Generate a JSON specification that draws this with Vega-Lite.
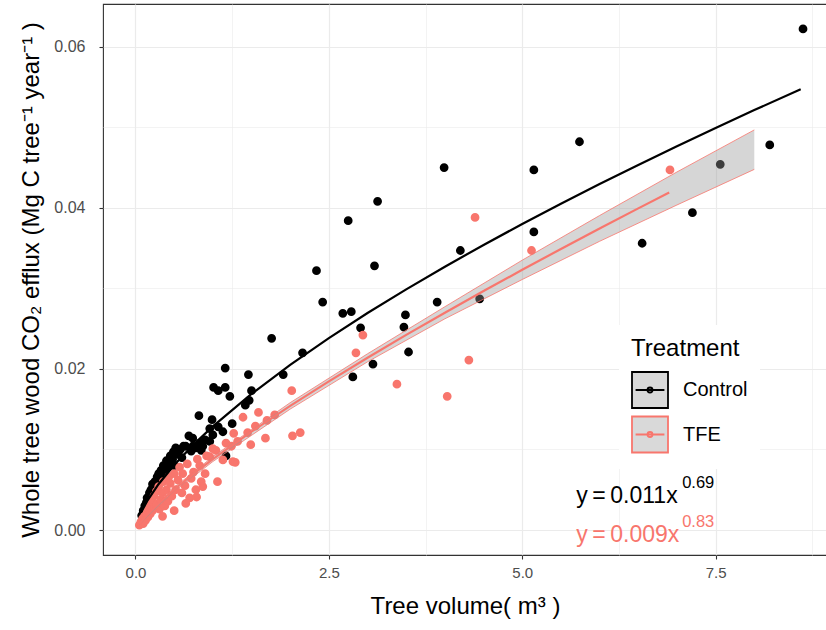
{
  "$schema": "https://vega.github.io/schema/vega-lite/v6.json",
  "autosize": "none",
  "padding": {"left": 103, "top": 4, "right": 0, "bottom": 71},
  "width": 724,
  "height": 551,
  "background": "white",
  "config": {
    "font": "Liberation Sans",
    "view": {"stroke": "#333333", "strokeWidth": 1.1},
    "legend": {
      "orient": "none",
      "legendX": 516,
      "legendY": 321,
      "direction": "vertical",
      "padding": 12,
      "fillColor": "white",
      "titleFont": "Liberation Sans",
      "titleFontSize": 24,
      "titleFontWeight": "normal",
      "titleColor": "#000000",
      "titlePadding": 10,
      "labelFont": "Liberation Sans",
      "labelFontSize": 20,
      "labelColor": "#000000",
      "labelOffset": 14,
      "rowPadding": 0.5,
      "symbolSize": 1296,
      "symbolStrokeWidth": 1.8
    }
  },
  "datasets": {
    "points": [
      {"x":0.08,"y":0.0018,"Treatment":"Control"},{"x":0.1,"y":0.0024,"Treatment":"Control"},{"x":0.12,"y":0.003,"Treatment":"Control"},{"x":0.14,"y":0.0034,"Treatment":"Control"},{"x":0.15,"y":0.004,"Treatment":"Control"},{"x":0.17,"y":0.0036,"Treatment":"Control"},{"x":0.18,"y":0.0046,"Treatment":"Control"},{"x":0.2,"y":0.005,"Treatment":"Control"},{"x":0.2,"y":0.0042,"Treatment":"Control"},{"x":0.22,"y":0.0057,"Treatment":"Control"},{"x":0.23,"y":0.0048,"Treatment":"Control"},{"x":0.25,"y":0.006,"Treatment":"Control"},{"x":0.26,"y":0.0052,"Treatment":"Control"},{"x":0.28,"y":0.0066,"Treatment":"Control"},{"x":0.29,"y":0.0058,"Treatment":"Control"},{"x":0.3,"y":0.007,"Treatment":"Control"},{"x":0.32,"y":0.0062,"Treatment":"Control"},{"x":0.33,"y":0.0074,"Treatment":"Control"},{"x":0.35,"y":0.0068,"Treatment":"Control"},{"x":0.36,"y":0.008,"Treatment":"Control"},{"x":0.38,"y":0.0072,"Treatment":"Control"},{"x":0.4,"y":0.0086,"Treatment":"Control"},{"x":0.42,"y":0.0078,"Treatment":"Control"},{"x":0.44,"y":0.0083,"Treatment":"Control"},{"x":0.45,"y":0.0092,"Treatment":"Control"},{"x":0.48,"y":0.0088,"Treatment":"Control"},{"x":0.49,"y":0.0097,"Treatment":"Control"},{"x":0.5,"y":0.008,"Treatment":"Control"},{"x":0.52,"y":0.0102,"Treatment":"Control"},{"x":0.55,"y":0.0094,"Treatment":"Control"},{"x":0.58,"y":0.01,"Treatment":"Control"},{"x":0.6,"y":0.009,"Treatment":"Control"},{"x":0.62,"y":0.0104,"Treatment":"Control"},{"x":0.65,"y":0.0104,"Treatment":"Control"},{"x":0.69,"y":0.0117,"Treatment":"Control"},{"x":0.72,"y":0.0098,"Treatment":"Control"},{"x":0.74,"y":0.0114,"Treatment":"Control"},{"x":0.74,"y":0.0104,"Treatment":"Control"},{"x":0.78,"y":0.0102,"Treatment":"Control"},{"x":0.82,"y":0.0142,"Treatment":"Control"},{"x":0.83,"y":0.0108,"Treatment":"Control"},{"x":0.85,"y":0.0099,"Treatment":"Control"},{"x":0.87,"y":0.0104,"Treatment":"Control"},{"x":0.9,"y":0.0112,"Treatment":"Control"},{"x":0.96,"y":0.0126,"Treatment":"Control"},{"x":0.96,"y":0.011,"Treatment":"Control"},{"x":0.99,"y":0.0137,"Treatment":"Control"},{"x":1.0,"y":0.0118,"Treatment":"Control"},{"x":1.07,"y":0.0128,"Treatment":"Control"},{"x":1.13,"y":0.0122,"Treatment":"Control"},{"x":1.17,"y":0.0092,"Treatment":"Control"},{"x":1.25,"y":0.0132,"Treatment":"Control"},{"x":1.01,"y":0.0177,"Treatment":"Control"},{"x":1.07,"y":0.0173,"Treatment":"Control"},{"x":1.16,"y":0.0177,"Treatment":"Control"},{"x":1.16,"y":0.0201,"Treatment":"Control"},{"x":1.22,"y":0.0166,"Treatment":"Control"},{"x":1.42,"y":0.0155,"Treatment":"Control"},{"x":1.46,"y":0.0193,"Treatment":"Control"},{"x":1.47,"y":0.0161,"Treatment":"Control"},{"x":1.5,"y":0.0173,"Treatment":"Control"},{"x":1.76,"y":0.0238,"Treatment":"Control"},{"x":1.91,"y":0.0193,"Treatment":"Control"},{"x":2.16,"y":0.022,"Treatment":"Control"},{"x":2.34,"y":0.0322,"Treatment":"Control"},{"x":2.42,"y":0.0283,"Treatment":"Control"},{"x":2.68,"y":0.0269,"Treatment":"Control"},{"x":2.75,"y":0.0384,"Treatment":"Control"},{"x":2.79,"y":0.0271,"Treatment":"Control"},{"x":2.81,"y":0.019,"Treatment":"Control"},{"x":2.91,"y":0.0251,"Treatment":"Control"},{"x":3.07,"y":0.0206,"Treatment":"Control"},{"x":3.09,"y":0.0328,"Treatment":"Control"},{"x":3.13,"y":0.0408,"Treatment":"Control"},{"x":3.47,"y":0.0252,"Treatment":"Control"},{"x":3.49,"y":0.0267,"Treatment":"Control"},{"x":3.53,"y":0.0221,"Treatment":"Control"},{"x":3.9,"y":0.0283,"Treatment":"Control"},{"x":3.99,"y":0.045,"Treatment":"Control"},{"x":4.2,"y":0.0347,"Treatment":"Control"},{"x":4.45,"y":0.0287,"Treatment":"Control"},{"x":5.15,"y":0.0447,"Treatment":"Control"},{"x":5.15,"y":0.037,"Treatment":"Control"},{"x":5.74,"y":0.0482,"Treatment":"Control"},{"x":6.55,"y":0.0356,"Treatment":"Control"},{"x":7.2,"y":0.0394,"Treatment":"Control"},{"x":7.56,"y":0.0454,"Treatment":"Control"},{"x":8.2,"y":0.0478,"Treatment":"Control"},{"x":8.63,"y":0.0622,"Treatment":"Control"},
      {"x":0.05,"y":0.0006,"Treatment":"TFE"},{"x":0.07,"y":0.001,"Treatment":"TFE"},{"x":0.09,"y":0.0014,"Treatment":"TFE"},{"x":0.1,"y":0.0008,"Treatment":"TFE"},{"x":0.12,"y":0.0018,"Treatment":"TFE"},{"x":0.13,"y":0.0012,"Treatment":"TFE"},{"x":0.15,"y":0.0024,"Treatment":"TFE"},{"x":0.16,"y":0.0016,"Treatment":"TFE"},{"x":0.18,"y":0.003,"Treatment":"TFE"},{"x":0.19,"y":0.002,"Treatment":"TFE"},{"x":0.21,"y":0.0036,"Treatment":"TFE"},{"x":0.22,"y":0.0024,"Treatment":"TFE"},{"x":0.24,"y":0.0042,"Treatment":"TFE"},{"x":0.25,"y":0.0028,"Treatment":"TFE"},{"x":0.27,"y":0.0048,"Treatment":"TFE"},{"x":0.28,"y":0.0032,"Treatment":"TFE"},{"x":0.3,"y":0.0054,"Treatment":"TFE"},{"x":0.31,"y":0.0026,"Treatment":"TFE"},{"x":0.33,"y":0.0038,"Treatment":"TFE"},{"x":0.35,"y":0.0046,"Treatment":"TFE"},{"x":0.35,"y":0.0017,"Treatment":"TFE"},{"x":0.36,"y":0.006,"Treatment":"TFE"},{"x":0.38,"y":0.003,"Treatment":"TFE"},{"x":0.4,"y":0.005,"Treatment":"TFE"},{"x":0.42,"y":0.0036,"Treatment":"TFE"},{"x":0.43,"y":0.0066,"Treatment":"TFE"},{"x":0.45,"y":0.0058,"Treatment":"TFE"},{"x":0.47,"y":0.0042,"Treatment":"TFE"},{"x":0.5,"y":0.007,"Treatment":"TFE"},{"x":0.5,"y":0.0024,"Treatment":"TFE"},{"x":0.52,"y":0.005,"Treatment":"TFE"},{"x":0.55,"y":0.0062,"Treatment":"TFE"},{"x":0.57,"y":0.0078,"Treatment":"TFE"},{"x":0.6,"y":0.0046,"Treatment":"TFE"},{"x":0.61,"y":0.007,"Treatment":"TFE"},{"x":0.64,"y":0.0055,"Treatment":"TFE"},{"x":0.65,"y":0.0033,"Treatment":"TFE"},{"x":0.67,"y":0.0082,"Treatment":"TFE"},{"x":0.7,"y":0.004,"Treatment":"TFE"},{"x":0.72,"y":0.0064,"Treatment":"TFE"},{"x":0.75,"y":0.0072,"Treatment":"TFE"},{"x":0.78,"y":0.005,"Treatment":"TFE"},{"x":0.79,"y":0.0041,"Treatment":"TFE"},{"x":0.8,"y":0.0088,"Treatment":"TFE"},{"x":0.83,"y":0.008,"Treatment":"TFE"},{"x":0.85,"y":0.006,"Treatment":"TFE"},{"x":0.87,"y":0.0054,"Treatment":"TFE"},{"x":0.9,"y":0.007,"Treatment":"TFE"},{"x":0.92,"y":0.0092,"Treatment":"TFE"},{"x":0.96,"y":0.0091,"Treatment":"TFE"},{"x":1.0,"y":0.0101,"Treatment":"TFE"},{"x":1.04,"y":0.0099,"Treatment":"TFE"},{"x":1.06,"y":0.006,"Treatment":"TFE"},{"x":1.13,"y":0.0087,"Treatment":"TFE"},{"x":1.17,"y":0.0108,"Treatment":"TFE"},{"x":1.24,"y":0.0104,"Treatment":"TFE"},{"x":1.26,"y":0.0085,"Treatment":"TFE"},{"x":1.27,"y":0.012,"Treatment":"TFE"},{"x":1.29,"y":0.0084,"Treatment":"TFE"},{"x":1.32,"y":0.011,"Treatment":"TFE"},{"x":1.39,"y":0.014,"Treatment":"TFE"},{"x":1.45,"y":0.0121,"Treatment":"TFE"},{"x":1.49,"y":0.0106,"Treatment":"TFE"},{"x":1.55,"y":0.0129,"Treatment":"TFE"},{"x":1.59,"y":0.0146,"Treatment":"TFE"},{"x":1.68,"y":0.0114,"Treatment":"TFE"},{"x":1.7,"y":0.0136,"Treatment":"TFE"},{"x":1.8,"y":0.0143,"Treatment":"TFE"},{"x":2.02,"y":0.0173,"Treatment":"TFE"},{"x":2.03,"y":0.0117,"Treatment":"TFE"},{"x":2.13,"y":0.0121,"Treatment":"TFE"},{"x":2.85,"y":0.022,"Treatment":"TFE"},{"x":2.94,"y":0.0242,"Treatment":"TFE"},{"x":3.38,"y":0.0181,"Treatment":"TFE"},{"x":4.03,"y":0.0166,"Treatment":"TFE"},{"x":4.31,"y":0.0211,"Treatment":"TFE"},{"x":4.39,"y":0.0388,"Treatment":"TFE"},{"x":5.12,"y":0.0347,"Treatment":"TFE"},{"x":6.91,"y":0.0447,"Treatment":"TFE"}
    ],
    "fits": [
      {"x":0.07,"y":0.00215,"Treatment":"Control"},{"x":0.15,"y":0.00359,"Treatment":"Control"},{"x":0.3,"y":0.00572,"Treatment":"Control"},{"x":0.5,"y":0.00807,"Treatment":"Control"},{"x":0.75,"y":0.0106,"Treatment":"Control"},{"x":1.0,"y":0.01286,"Treatment":"Control"},{"x":1.5,"y":0.0169,"Treatment":"Control"},{"x":2.0,"y":0.0205,"Treatment":"Control"},{"x":2.5,"y":0.02383,"Treatment":"Control"},{"x":3.0,"y":0.02694,"Treatment":"Control"},{"x":3.5,"y":0.02988,"Treatment":"Control"},{"x":4.0,"y":0.03269,"Treatment":"Control"},{"x":4.5,"y":0.03539,"Treatment":"Control"},{"x":5.0,"y":0.03799,"Treatment":"Control"},{"x":5.5,"y":0.04051,"Treatment":"Control"},{"x":6.0,"y":0.04295,"Treatment":"Control"},{"x":6.5,"y":0.04532,"Treatment":"Control"},{"x":7.0,"y":0.04765,"Treatment":"Control"},{"x":7.5,"y":0.04991,"Treatment":"Control"},{"x":8.0,"y":0.05213,"Treatment":"Control"},{"x":8.6,"y":0.05473,"Treatment":"Control"},
      {"x":0.05,"y":0.00078,"Treatment":"TFE"},{"x":0.15,"y":0.0019,"Treatment":"TFE"},{"x":0.3,"y":0.00333,"Treatment":"TFE"},{"x":0.5,"y":0.00503,"Treatment":"TFE"},{"x":0.75,"y":0.00697,"Treatment":"TFE"},{"x":1.0,"y":0.0088,"Treatment":"TFE"},{"x":1.5,"y":0.01221,"Treatment":"TFE"},{"x":2.0,"y":0.01541,"Treatment":"TFE"},{"x":2.5,"y":0.01845,"Treatment":"TFE"},{"x":3.0,"y":0.02138,"Treatment":"TFE"},{"x":3.5,"y":0.02422,"Treatment":"TFE"},{"x":4.0,"y":0.02697,"Treatment":"TFE"},{"x":4.5,"y":0.02967,"Treatment":"TFE"},{"x":5.0,"y":0.0323,"Treatment":"TFE"},{"x":5.5,"y":0.03489,"Treatment":"TFE"},{"x":6.0,"y":0.03744,"Treatment":"TFE"},{"x":6.5,"y":0.03993,"Treatment":"TFE"},{"x":6.9,"y":0.0419,"Treatment":"TFE"}
    ],
    "band": [
      {"x":0.05,"lo":0.00058,"hi":0.00098},{"x":0.5,"lo":0.00478,"hi":0.00528},{"x":1.0,"lo":0.0085,"hi":0.0091},{"x":2.0,"lo":0.01501,"hi":0.01581},{"x":3.0,"lo":0.02088,"hi":0.02188},{"x":4.0,"lo":0.02622,"hi":0.02772},{"x":5.0,"lo":0.0311,"hi":0.0335},{"x":6.0,"lo":0.03584,"hi":0.03904},{"x":7.0,"lo":0.04035,"hi":0.04445},{"x":8.0,"lo":0.04477,"hi":0.04967}
    ],
    "eqs": [
      {"Treatment":"Control","x":5.697,"y":0.00339,"label":"y\u2009=\u20090.011x","sup":"0.69"},
      {"Treatment":"TFE","x":5.697,"y":-0.00145,"label":"y\u2009=\u20090.009x","sup":"0.83"}
    ]
  },
  "encoding": {
    "x": {
      "field": "x", "type": "quantitative",
      "scale": {"domain": [-0.42, 8.94], "nice": false, "zero": false},
      "axis": {
        "title": "Tree volume( m\u00b3 )",
        "values": [0, 1.25, 2.5, 3.75, 5, 6.25, 7.5, 8.75],
        "labelExpr": "(datum.value / 1.25) % 2 === 0 ? format(datum.value, '.1f') : ''",
        "domain": false,
        "grid": true,
        "gridColor": "#EBEBEB",
        "gridWidth": {"condition": {"test": "(datum.value / 1.25) % 2 !== 0", "value": 0.6}, "value": 1.2},
        "tickColor": "#333333",
        "tickOpacity": {"condition": {"test": "(datum.value / 1.25) % 2 !== 0", "value": 0}, "value": 1},
        "tickSize": 4,
        "tickWidth": 1.1,
        "labelFontSize": 15,
        "labelColor": "#4D4D4D",
        "labelPadding": 6,
        "labelFont": "Liberation Sans",
        "titleFont": "Liberation Sans",
        "titleFontSize": 24,
        "titleFontWeight": "normal",
        "titleColor": "#000000",
        "titlePadding": 14
      }
    },
    "y": {
      "field": "y", "type": "quantitative",
      "scale": {"domain": [-0.0031, 0.0653], "nice": false, "zero": false},
      "axis": {
        "title": "Whole tree wood CO\u2082 efflux (Mg C tree\u207b\u00b9 year\u207b\u00b9 )",
        "values": [0, 0.01, 0.02, 0.03, 0.04, 0.05, 0.06],
        "labelExpr": "round(datum.value * 100) % 2 === 0 ? format(datum.value, '.2f') : ''",
        "domain": false,
        "grid": true,
        "gridColor": "#EBEBEB",
        "gridWidth": {"condition": {"test": "round(datum.value * 100) % 2 !== 0", "value": 0.6}, "value": 1.2},
        "tickColor": "#333333",
        "tickOpacity": {"condition": {"test": "round(datum.value * 100) % 2 !== 0", "value": 0}, "value": 1},
        "tickSize": 4,
        "tickWidth": 1.1,
        "labelFontSize": 16,
        "labelColor": "#4D4D4D",
        "labelPadding": 14,
        "labelFont": "Liberation Sans",
        "titleFont": "Liberation Sans",
        "titleFontSize": 24,
        "titleFontWeight": "normal",
        "titleColor": "#000000",
        "titlePadding": 10
      }
    }
  },
  "layer": [
    {
      "data": {"name": "points"},
      "mark": {"type": "circle", "size": 46, "opacity": 1},
      "encoding": {
        "fill": {"field": "Treatment", "type": "nominal", "scale": {"range": ["#000000", "#F8766D"]}, "legend": null},
        "stroke": {"field": "Treatment", "type": "nominal", "scale": {"domain": ["Control", "TFE"], "range": ["#000000", "#F8766D"]}, "title": "Treatment",
          "legend": {"symbolType": "M-1,-1L1,-1L1,1L-1,1Z M-0.8,0L0.8,0 M0.14,0A0.14,0.14 0 1,1 -0.14,0A0.14,0.14 0 1,1 0.14,0Z", "symbolFillColor": "#D9D9D9", "symbolStrokeWidth": 1.8}}
      }
    },
    {
      "data": {"name": "band"},
      "mark": {"type": "area", "color": "#999999", "opacity": 0.4},
      "encoding": {"y": {"field": "lo", "type": "quantitative"}, "y2": {"field": "hi"}}
    },
    {
      "data": {"name": "band"},
      "mark": {"type": "line", "color": "#F8766D", "strokeWidth": 0.8},
      "encoding": {"y": {"field": "lo", "type": "quantitative"}}
    },
    {
      "data": {"name": "band"},
      "mark": {"type": "line", "color": "#F8766D", "strokeWidth": 0.8},
      "encoding": {"y": {"field": "hi", "type": "quantitative"}}
    },
    {
      "data": {"name": "fits"},
      "mark": {"type": "line", "strokeWidth": 2.2},
      "encoding": {
        "color": {"field": "Treatment", "type": "nominal", "scale": {"range": ["#000000", "#F8766D"]}, "legend": null}
      }
    },
    {
      "data": {"name": "eqs"},
      "mark": {"type": "text", "align": "left", "baseline": "alphabetic", "fontSize": 23, "font": "Liberation Sans"},
      "encoding": {
        "text": {"field": "label"},
        "fill": {"field": "Treatment", "type": "nominal", "scale": {"range": ["#000000", "#F8766D"]}, "legend": null}
      }
    },
    {
      "data": {"name": "eqs"},
      "mark": {"type": "text", "align": "left", "baseline": "alphabetic", "fontSize": 16.5, "font": "Liberation Sans", "dx": 106, "dy": -15},
      "encoding": {
        "text": {"field": "sup"},
        "fill": {"field": "Treatment", "type": "nominal", "scale": {"range": ["#000000", "#F8766D"]}, "legend": null}
      }
    }
  ]
}
